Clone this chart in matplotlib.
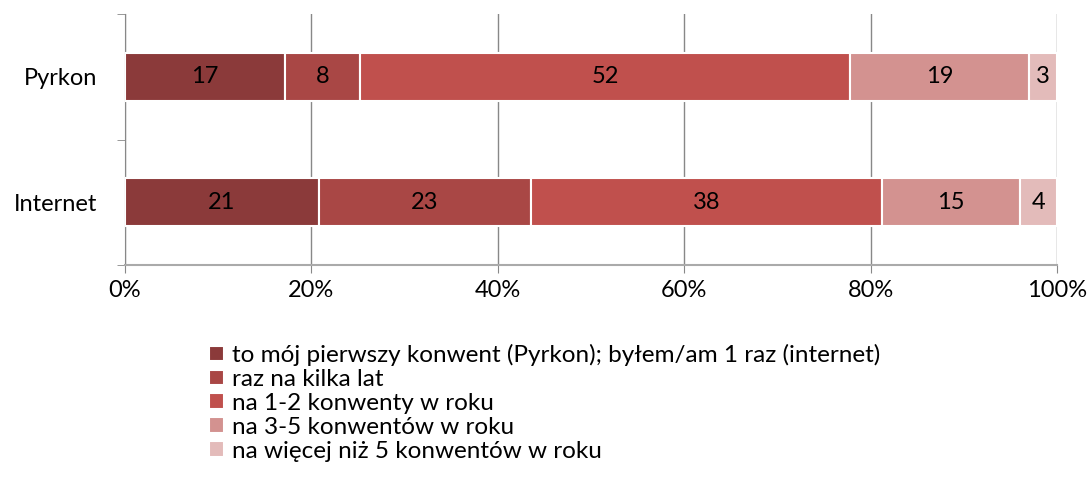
import matplotlib.pyplot as plt
import numpy as np

categories = ["Pyrkon", "Internet"]
series_labels = [
    "to mój pierwszy konwent (Pyrkon); byłem/am 1 raz (internet)",
    "raz na kilka lat",
    "na 1-2 konwenty w roku",
    "na 3-5 konwentów w roku",
    "na więcej niż 5 konwentów w roku",
]
pyrkon = [17, 8, 52, 19, 3]
internet = [21, 23, 38, 15, 4]
colors = ["#8B3A3A", "#A94745", "#C0504D", "#D39290", "#E3BBBA"]

plt.rcParams['font.family'] = ['Lato', 'DejaVu Sans']

fig = plt.figure(figsize=(10.89, 4.95), dpi=100)
ax = fig.add_axes([0.1148, 0.4646, 0.8558, 0.5071])

data = np.array([pyrkon, internet], dtype=float)
shares = data / data.sum(axis=1, keepdims=True) * 100
ypos = [1, 0]

left = np.zeros(2)
for i in range(len(series_labels)):
    bars = ax.barh(ypos, shares[:, i], left=left, height=0.385, color=colors[i],
                   edgecolor="white", linewidth=1.5, label=series_labels[i], zorder=3)
    for b, v in zip(bars, data[:, i]):
        ax.text(b.get_x() + b.get_width() / 2, b.get_y() + b.get_height() / 2,
                f"{int(v)}", ha="center", va="center", fontsize=17, color="black", zorder=4)
    left += shares[:, i]

ax.set_xlim(0, 100)
ax.set_ylim(-0.5, 1.5)
ax.set_xticks(range(0, 101, 20))
ax.set_xticklabels([f"{t}%" for t in range(0, 101, 20)], fontsize=17)
ax.set_yticks(ypos)
ax.set_yticklabels(categories, fontsize=17)
ax.set_yticks([-0.5, 0.5, 1.5], minor=True)
ax.tick_params(axis="y", which="major", length=0, pad=20)
ax.tick_params(axis="y", which="minor", length=6, color="#888888")
ax.tick_params(axis="x", length=6, color="#888888", pad=5)
ax.grid(axis="x", color="#888888", linewidth=1, zorder=0)
for s in ["top", "right"]:
    ax.spines[s].set_visible(False)
ax.spines["left"].set_color("#888888")
ax.spines["bottom"].set_color("#AAAAAA")
ax.spines["bottom"].set_linewidth(1.5)

fig.legend(loc="upper left", bbox_to_anchor=(0.183, 0.325), frameon=False, fontsize=17.5,
           handlelength=0.6, handleheight=0.6, handletextpad=0.35, labelspacing=0.12,
           borderaxespad=0)

fig.savefig("out.png", dpi=100)
